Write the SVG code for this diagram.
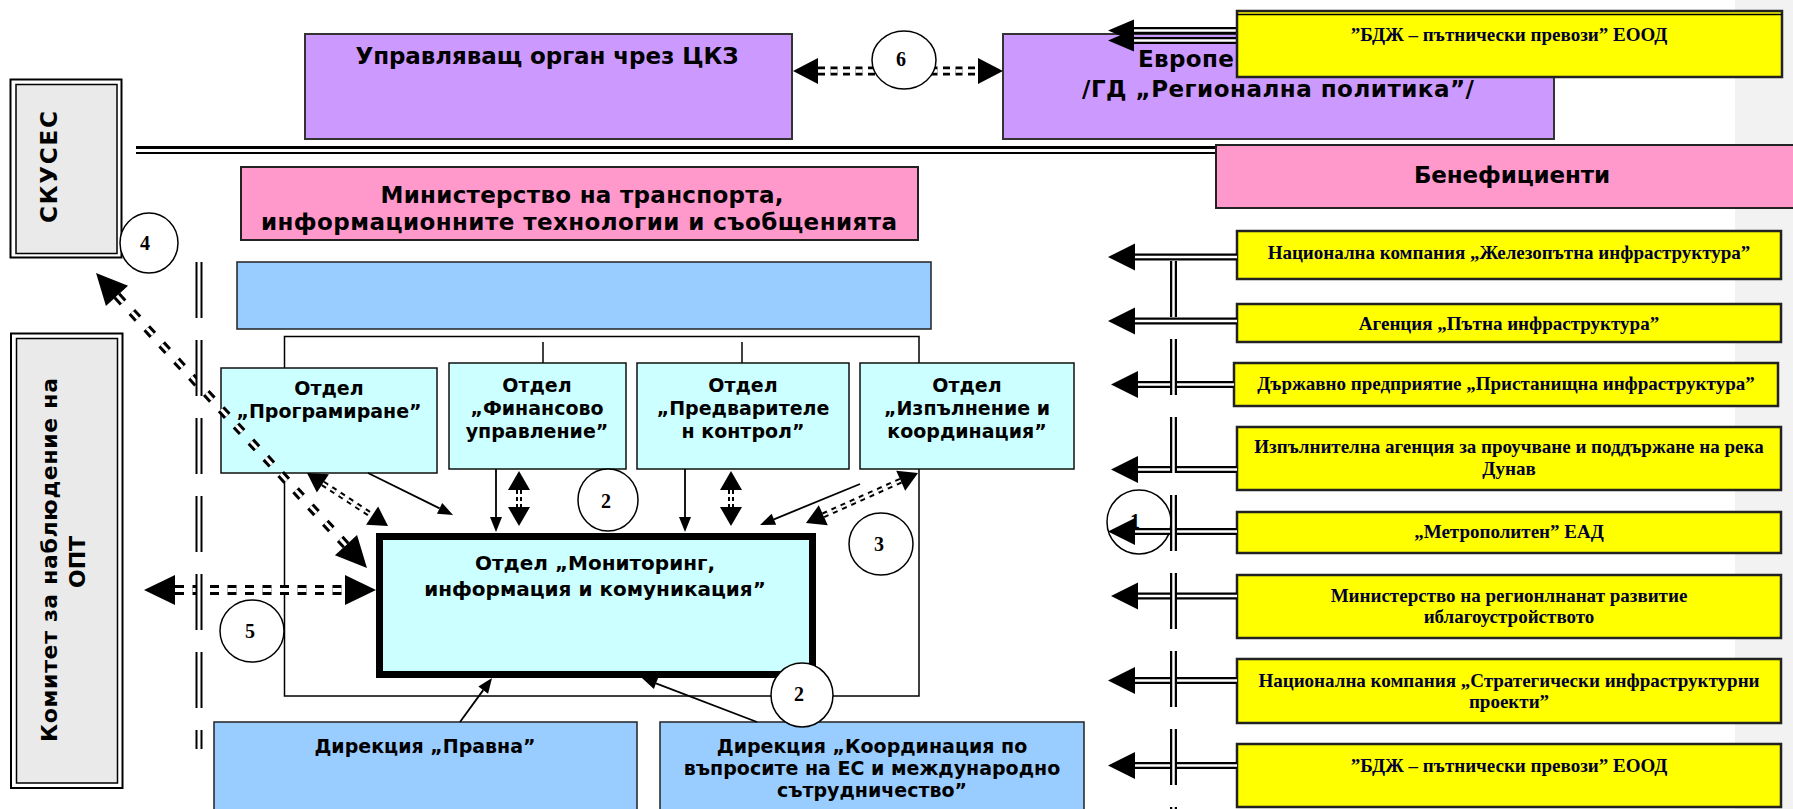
<svg xmlns="http://www.w3.org/2000/svg" width="1793" height="809" viewBox="0 0 1793 809">
<defs>
<style>
.bg{fill:#fff}
.strip{fill:#F2F2F2}
.purple{fill:#CC99FF;stroke:#333;stroke-width:2}
.pink{fill:#FF99CC;stroke:#222;stroke-width:2}
.blue{fill:#99CCFF;stroke:#222;stroke-width:1.5}
.cyan{fill:#CCFFFF;stroke:#111;stroke-width:1.5}
.mon{fill:#CCFFFF;stroke:#000;stroke-width:7}
.yellow{fill:#FFFF00;stroke:#222;stroke-width:2.5}
.gout{fill:#fff;stroke:#000;stroke-width:2}
.gin{fill:#EAEAEA;stroke:#000;stroke-width:1.5}
.frame{fill:none;stroke:#000;stroke-width:1.5}
.t{font-family:"DejaVu Sans",Verdana,sans-serif;font-weight:bold;fill:#000;text-anchor:middle}
.h{font-size:23px}
.k{font-size:22px}
.v{font-size:23px}
.d{font-size:19px}
.m{font-size:20px}
.ts{font-family:"Liberation Serif","Times New Roman",serif;font-weight:bold;font-size:19px;fill:#000033;text-anchor:middle}
.num{font-family:"Liberation Serif","Times New Roman",serif;font-weight:bold;font-size:20px;fill:#000;text-anchor:middle}
.circ{fill:#fff;stroke:#000;stroke-width:1.5}
.circo{fill:none;stroke:#000;stroke-width:1.5}
.ln{fill:none;stroke:#000}
.wh{fill:none;stroke:#fff}
.solid{fill:none;stroke:#000;stroke-width:1.8;marker-end:url(#mS)}
</style>
<marker id="mB" markerUnits="userSpaceOnUse" markerWidth="32" markerHeight="31" refX="0" refY="15" orient="auto-start-reverse" overflow="visible"><path d="M0,0 L31,15 L0,30 Z" fill="#000"/></marker>
<marker id="m6" markerUnits="userSpaceOnUse" markerWidth="26" markerHeight="27" refX="0" refY="13" orient="auto-start-reverse" overflow="visible"><path d="M0,0 L25,13 L0,26 Z" fill="#000"/></marker>
<marker id="mT" markerUnits="userSpaceOnUse" markerWidth="20" markerHeight="23" refX="0" refY="11" orient="auto-start-reverse" overflow="visible"><path d="M0,0 L19,11 L0,22 Z" fill="#000"/></marker>
<marker id="mS" markerUnits="userSpaceOnUse" markerWidth="16" markerHeight="13" refX="0" refY="6" orient="auto" overflow="visible"><path d="M0,0 L15,6 L0,12 Z" fill="#000"/></marker>
<marker id="mR" markerUnits="userSpaceOnUse" markerWidth="28" markerHeight="28" refX="0" refY="13.5" orient="auto" overflow="visible"><path d="M0,0 L27,13.5 L0,27 Z" fill="#000"/></marker>
<marker id="mRt" markerUnits="userSpaceOnUse" markerWidth="27" markerHeight="23" refX="0" refY="11" orient="auto" overflow="visible"><path d="M0,0 L26,11 L0,22 Z" fill="#000"/></marker>
</defs>

<rect class="bg" x="0" y="0" width="1793" height="809"/>
<rect class="strip" x="1735" y="0" width="58" height="809"/>

<g id="separator">
<line class="ln" x1="136" y1="147.5" x2="1216" y2="147.5" stroke-width="3"/>
<line class="ln" x1="136" y1="153" x2="1216" y2="153" stroke-width="2"/>
</g>

<g id="n-upravlyavasht">
<rect class="purple" x="305" y="34" width="487" height="105"/>
<text class="t h" x="547" y="64" textLength="383" lengthAdjust="spacing">Управляващ орган чрез ЦКЗ</text>
</g>

<g id="n-evrokomisia">
<rect class="purple" x="1003" y="34" width="551" height="105"/>
<text class="t h" x="1278" y="67" textLength="280" lengthAdjust="spacing">Европейска комисия</text>
<text class="t h" x="1278" y="97" textLength="392" lengthAdjust="spacing">/ГД „Регионална политика”/</text>
</g>

<g id="n-ministerstvo">
<rect class="pink" x="241" y="167" width="677" height="73"/>
<text class="t h" x="582" y="203" textLength="403" lengthAdjust="spacing">Министерство на транспорта,</text>
<text class="t h" x="579" y="230" textLength="636" lengthAdjust="spacing">информационните технологии и съобщенията</text>
</g>

<g id="n-beneficienti">
<rect class="pink" x="1216" y="145" width="600" height="63"/>
<text class="t h" x="1512" y="183" textLength="196" lengthAdjust="spacing">Бенефициенти</text>
</g>

<g id="n-skuses">
<rect class="gout" x="10.5" y="79.5" width="111" height="178"/>
<rect class="gin" x="16" y="84.5" width="101" height="169"/>
<text class="t v" transform="translate(57,167) rotate(-90)" x="0" y="0" textLength="112" lengthAdjust="spacing">СКУСЕС</text>
</g>

<g id="n-komitet">
<rect class="gout" x="11" y="333.5" width="111.5" height="454.5"/>
<rect class="gin" x="16.5" y="338.5" width="101" height="444.5"/>
<text class="t k" transform="translate(57,560) rotate(-90)" x="0" y="0" textLength="364" lengthAdjust="spacing">Комитет за наблюдение на</text>
<text class="t k" transform="translate(85,562) rotate(-90)" x="0" y="0">ОПТ</text>
</g>

<g id="n-blue-top">
<rect class="blue" x="237" y="262" width="694" height="67"/>
</g>

<g id="n-frame">
<rect class="frame" x="284.5" y="336.5" width="634.5" height="359.5"/>
<line class="ln" x1="543" y1="342" x2="543" y2="375" stroke-width="1.5"/>
<line class="ln" x1="742" y1="342" x2="742" y2="363" stroke-width="1.5"/>
</g>

<g id="n-programirane">
<rect class="cyan" x="221" y="368" width="216" height="105"/>
<text class="t d" x="329" y="395">Отдел</text>
<text class="t d" x="329" y="418">„Програмиране”</text>
</g>

<g id="n-finansovo">
<rect class="cyan" x="449" y="363" width="177" height="106"/>
<text class="t d" x="537" y="392">Отдел</text>
<text class="t d" x="537" y="415">„Финансово</text>
<text class="t d" x="537" y="438">управление”</text>
</g>

<g id="n-predvaritelen">
<rect class="cyan" x="637" y="363" width="212" height="106"/>
<text class="t d" x="743" y="392">Отдел</text>
<text class="t d" x="743" y="415">„Предварителе</text>
<text class="t d" x="743" y="438">н контрол”</text>
</g>

<g id="n-izpalnenie">
<rect class="cyan" x="860" y="363" width="214" height="106"/>
<text class="t d" x="967" y="392">Отдел</text>
<text class="t d" x="967" y="415">„Изпълнение и</text>
<text class="t d" x="967" y="438">координация”</text>
</g>

<g id="n-monitoring">
<rect class="mon" x="379.5" y="536.5" width="433" height="138"/>
<text class="t m" x="595" y="570">Отдел „Мониторинг,</text>
<text class="t m" x="595" y="596">информация и комуникация”</text>
</g>

<g id="n-pravna">
<rect class="blue" x="214" y="722" width="423" height="100"/>
<text class="t d" x="425" y="753">Дирекция „Правна”</text>
</g>

<g id="n-koordinacia">
<rect class="blue" x="660" y="722" width="424" height="100"/>
<text class="t d" x="872" y="753">Дирекция „Координация по</text>
<text class="t d" x="872" y="775">въпросите на ЕС и международно</text>
<text class="t d" x="872" y="797">сътрудничество”</text>
</g>

<g id="n-zheleznopatna">
<rect class="yellow" x="1237" y="231" width="544" height="48"/>
<text class="ts" x="1509" y="259">Национална компания „Железопътна инфраструктура”</text>
</g>
<g id="n-patna">
<rect class="yellow" x="1237" y="304" width="544" height="38"/>
<text class="ts" x="1509" y="330">Агенция „Пътна инфраструктура”</text>
</g>
<g id="n-pristanishtna">
<rect class="yellow" x="1234" y="363" width="544" height="43"/>
<text class="ts" x="1506" y="390">Държавно предприятие „Пристанищна инфраструктура”</text>
</g>
<g id="n-dunav">
<rect class="yellow" x="1237" y="427" width="544" height="63"/>
<text class="ts" x="1509" y="453">Изпълнителна агенция за проучване и поддържане на река</text>
<text class="ts" x="1509" y="475">Дунав</text>
</g>
<g id="n-metropoliten">
<rect class="yellow" x="1237" y="512" width="544" height="41"/>
<text class="ts" x="1509" y="538">„Метрополитен” ЕАД</text>
</g>
<g id="n-mrrb">
<rect class="yellow" x="1237" y="575" width="544" height="63"/>
<text class="ts" x="1509" y="602">Министерство на регионлнанат развитие</text>
<text class="ts" x="1509" y="623">иблагоустройството</text>
</g>
<g id="n-strategicheski">
<rect class="yellow" x="1237" y="659" width="544" height="64"/>
<text class="ts" x="1509" y="687">Национална компания „Стратегически инфраструктурни</text>
<text class="ts" x="1509" y="708">проекти”</text>
</g>
<g id="n-bdj">
<rect class="yellow" x="1237" y="744" width="544" height="63"/>
<text class="ts" x="1509" y="772">”БДЖ – пътнически превози” ЕООД</text>
</g>

<g id="label-1">
<ellipse class="circo" cx="1139" cy="522" rx="32" ry="32"/>
<text class="num" x="1135" y="528">1</text>
</g>

<g id="connectors">
<path class="ln" d="M818,71 L978,71" stroke-width="9" stroke-dasharray="7 5.5" marker-start="url(#m6)" marker-end="url(#m6)"/>
<path class="wh" d="M818,71 L978,71" stroke-width="3.5" stroke-dasharray="7 5.5"/>
<path class="ln" d="M117,295.8 L346,545.2" stroke-width="9" stroke-dasharray="9 13" marker-start="url(#mB)" marker-end="url(#mB)"/>
<path class="wh" d="M117,295.8 L346,545.2" stroke-width="3" stroke-dasharray="9 13"/>
<path class="ln" d="M175,590 L345,590" stroke-width="10" stroke-dasharray="9 8.5" marker-start="url(#mB)" marker-end="url(#mB)"/>
<path class="wh" d="M175,590 L345,590" stroke-width="4" stroke-dasharray="9 8.5"/>
<path class="ln" d="M322.9,483.4 L372.1,515.6" stroke-width="6" stroke-dasharray="5 5" marker-start="url(#mT)" marker-end="url(#mT)"/>
<path class="wh" d="M322.9,483.4 L372.1,515.6" stroke-width="2" stroke-dasharray="5 5"/>
<path class="ln" d="M519,490 L519,507" stroke-width="6" stroke-dasharray="4 3" marker-start="url(#mT)" marker-end="url(#mT)"/>
<path class="wh" d="M519,490 L519,507" stroke-width="2" stroke-dasharray="4 3"/>
<path class="ln" d="M731,490 L731,507" stroke-width="6" stroke-dasharray="4 3" marker-start="url(#mT)" marker-end="url(#mT)"/>
<path class="wh" d="M731,490 L731,507" stroke-width="2" stroke-dasharray="4 3"/>
<path class="ln" d="M900.7,480.7 L823.3,515.3" stroke-width="6" stroke-dasharray="5 5" marker-start="url(#mT)" marker-end="url(#mT)"/>
<path class="wh" d="M900.7,480.7 L823.3,515.3" stroke-width="2" stroke-dasharray="5 5"/>
<path class="solid" d="M368,473 L439.6,508.4"/>
<path class="solid" d="M496,469 L496,517"/>
<path class="solid" d="M685,469 L685,517"/>
<path class="solid" d="M860,484 L773.9,519.3"/>
<path class="solid" d="M460,722 L483.2,690.1"/>
<path class="solid" d="M757,722 L656,683.4"/>
<path class="ln" d="M1237,30.5 L1134,30.5" stroke-width="7" marker-end="url(#mRt)"/>
<path class="wh" d="M1237,30.5 L1134,30.5" stroke-width="2.5"/>
<path class="ln" d="M1237,40.5 L1134,40.5" stroke-width="7" marker-end="url(#mRt)"/>
<path class="wh" d="M1237,40.5 L1134,40.5" stroke-width="2.5"/>
<path class="ln" d="M1237,257 L1135,257" stroke-width="7" marker-end="url(#mR)"/>
<path class="wh" d="M1237,257 L1135,257" stroke-width="2.5"/>
<path class="ln" d="M1237,321 L1135,321" stroke-width="7" marker-end="url(#mR)"/>
<path class="wh" d="M1237,321 L1135,321" stroke-width="2.5"/>
<path class="ln" d="M1234,384.5 L1138,384.5" stroke-width="7" marker-end="url(#mR)"/>
<path class="wh" d="M1234,384.5 L1138,384.5" stroke-width="2.5"/>
<path class="ln" d="M1237,469.5 L1138,469.5" stroke-width="7" marker-end="url(#mR)"/>
<path class="wh" d="M1237,469.5 L1138,469.5" stroke-width="2.5"/>
<path class="ln" d="M1237,531.5 L1135,531.5" stroke-width="7" marker-end="url(#mR)"/>
<path class="wh" d="M1237,531.5 L1135,531.5" stroke-width="2.5"/>
<path class="ln" d="M1237,596 L1138,596" stroke-width="7" marker-end="url(#mR)"/>
<path class="wh" d="M1237,596 L1138,596" stroke-width="2.5"/>
<path class="ln" d="M1237,680.5 L1135,680.5" stroke-width="7" marker-end="url(#mR)"/>
<path class="wh" d="M1237,680.5 L1135,680.5" stroke-width="2.5"/>
<path class="ln" d="M1237,765.5 L1135,765.5" stroke-width="7" marker-end="url(#mR)"/>
<path class="wh" d="M1237,765.5 L1135,765.5" stroke-width="2.5"/>
<path class="ln" d="M1173.5,261 L1173.5,809" stroke-width="7" stroke-dasharray="56 22"/>
<path class="wh" d="M1173.5,261 L1173.5,809" stroke-width="2.5" stroke-dasharray="56 22"/>
<path class="ln" d="M199,262 L199,749" stroke-width="7" stroke-dasharray="56 22"/>
<path class="wh" d="M199,262 L199,749" stroke-width="3" stroke-dasharray="56 22"/>
</g>

<g id="n-bdj-top">
<rect class="yellow" x="1237" y="11" width="545" height="66"/>
<line class="ln" x1="1237" y1="14.5" x2="1782" y2="14.5" stroke-width="1.5"/>
<text class="ts" x="1509" y="41">”БДЖ – пътнически превози” ЕООД</text>
</g>

<g id="labels">
<ellipse class="circ" cx="904" cy="60" rx="32" ry="29"/>
<text class="num" x="901" y="66">6</text>
<ellipse class="circ" cx="149" cy="243" rx="29" ry="30"/>
<text class="num" x="145" y="250">4</text>
<ellipse class="circ" cx="252" cy="631" rx="32" ry="31"/>
<text class="num" x="250" y="638">5</text>
<ellipse class="circ" cx="608" cy="500" rx="30" ry="31"/>
<text class="num" x="606" y="508">2</text>
<ellipse class="circ" cx="881" cy="544" rx="32" ry="31"/>
<text class="num" x="879" y="551">3</text>
<ellipse class="circ" cx="802" cy="695" rx="31" ry="32"/>
<text class="num" x="799" y="701">2</text>
</g>
</svg>
